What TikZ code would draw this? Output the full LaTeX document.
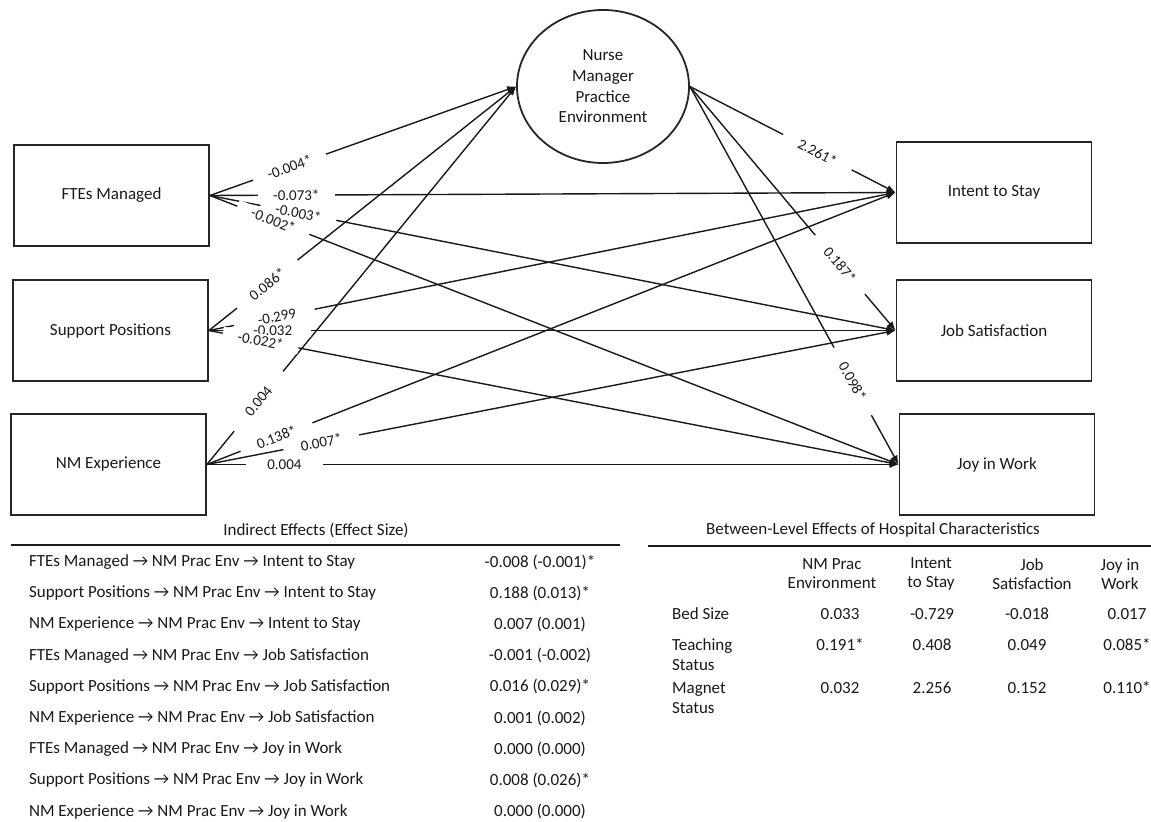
\documentclass[tikz,border=0pt]{standalone}
\usepackage{fontspec}
\setmainfont{Carlito}
\usetikzlibrary{arrows.meta, shapes.geometric}

\begin{document}
\begin{tikzpicture}[x=0.5pt, y=-0.5pt,
  box/.style  = {rectangle, draw=black!85, line width=0.9pt, text=black!90,
                 minimum width=97.5pt, minimum height=50.5pt,
                 font=\fontsize{8.5}{10.3}\selectfont},
  env/.style  = {ellipse, draw=black!85, line width=0.9pt, text=black!90,
                 minimum width=86pt, minimum height=76.5pt, inner sep=0pt,
                 align=center, font=\fontsize{8.5}{10.3}\selectfont},
  arr/.style  = {-{Latex[length=4.5pt, width=3.6pt]}, line width=0.7pt, black!90},
  lbl/.style  = {sloped, fill=white, inner xsep=0pt, inner ysep=0.6pt,
                 minimum width=38.5pt, text=black!90,
                 font=\fontsize{7.5}{8}\selectfont},
  head/.style = {text=black!90, align=center, font=\fontsize{8.5}{9.4}\selectfont},
  row/.style  = {anchor=west, text=black!90, align=left,
                 font=\fontsize{8.5}{10}\selectfont},
  cell/.style = {text=black!90, font=\fontsize{8.5}{10}\selectfont},
  rule/.style = {line width=0.9pt, black!90},
]
  \useasboundingbox (0,0) rectangle (1151,822);

  % model
  \node[box] (fte)   at (111.5,195.5) {FTEs Managed};
  \node[box] (sup)   at (110.5,330.5) {Support Positions};
  \node[box] (nmexp) at (108.5,464.5) {NM Experience};
  \node[env] (nmpe)  at (603,86.5) {Nurse\\Manager\\Practice\\Environment};
  \node[box] (its)   at (994,192.5) {Intent to Stay};
  \node[box] (jsat)  at (994,330.5) {Job Satisfaction};
  \node[box] (joy)   at (997,464.5) {Joy in Work};

  \draw[arr] (nmexp.east) -- node[lbl, pos=0.167] {0.004}  (nmpe.west);
  \draw[arr] (nmexp.east) -- node[lbl, pos=0.101] {0.138*} (its.west);
  \draw[arr] (nmexp.east) -- node[lbl, pos=0.166] {0.007*} (jsat.west);
  \draw[arr] (nmexp.east) -- node[lbl, pos=0.112] {0.004}  (joy.west);

  \draw[arr] (sup.east) -- node[lbl, pos=0.19]  {0.086*}  (nmpe.west);
  \draw[arr] (sup.east) -- node[lbl, pos=0.099] {-0.299}  (its.west);
  \draw[arr] (sup.east) -- node[lbl, pos=0.093] {-0.032}  (jsat.west);
  \draw[arr] (sup.east) -- node[lbl, pos=0.075] {-0.022*} (joy.west);

  \draw[arr] (fte.east) -- node[lbl, pos=0.26]  {-0.004*} (nmpe.west);
  \draw[arr] (fte.east) -- node[lbl, pos=0.126] {-0.073*} (its.west);
  \draw[arr] (fte.east) -- node[lbl, pos=0.129] {-0.003*} (jsat.west);
  \draw[arr] (fte.east) -- node[lbl, pos=0.092] {-0.002*} (joy.west);

  \draw[arr] (nmpe.east) -- node[lbl, pos=0.62] {2.261*} (its.west);
  \draw[arr] (nmpe.east) -- node[lbl, pos=0.73] {0.187*} (jsat.west);
  \draw[arr] (nmpe.east) -- node[lbl, pos=0.78] {0.098*} (joy.west);

  % indirect effects
  \node[cell] (ind) at (316,530) {Indirect Effects (Effect Size)};
  \draw[rule] (11,545) -- (620,545);
  \node[row]  (i1) at (22,562)   {FTEs Managed → NM Prac Env → Intent to Stay};
  \node[row]  (i2) at (22,593.2) {Support Positions → NM Prac Env → Intent to Stay};
  \node[row]  (i3) at (22,624.4) {NM Experience → NM Prac Env → Intent to Stay};
  \node[row]  (i4) at (22,655.6) {FTEs Managed → NM Prac Env → Job Satisfaction};
  \node[row]  (i5) at (22,686.8) {Support Positions → NM Prac Env → Job Satisfaction};
  \node[row]  (i6) at (22,718)   {NM Experience → NM Prac Env → Job Satisfaction};
  \node[row]  (i7) at (22,749.2) {FTEs Managed → NM Prac Env → Joy in Work};
  \node[row]  (i8) at (22,780.4) {Support Positions → NM Prac Env → Joy in Work};
  \node[row]  (i9) at (22,811.6) {NM Experience → NM Prac Env → Joy in Work};
  \node[cell] (e1) at (540,562)   {-0.008 (-0.001)*};
  \node[cell] (e2) at (540,593.2) {0.188 (0.013)*};
  \node[cell] (e3) at (540,624.4) {0.007 (0.001)};
  \node[cell] (e4) at (540,655.6) {-0.001 (-0.002)};
  \node[cell] (e5) at (540,686.8) {0.016 (0.029)*};
  \node[cell] (e6) at (540,718)   {0.001 (0.002)};
  \node[cell] (e7) at (540,749.2) {0.000 (0.000)};
  \node[cell] (e8) at (540,780.4) {0.008 (0.026)*};
  \node[cell] (e9) at (540,811.6) {0.000 (0.000)};

  % between-level effects
  \node[cell] (btw) at (873,530) {Between-Level Effects of Hospital Characteristics};
  \draw[rule] (648,546) -- (1151,546);
  \node[head] (h1) at (832,574)  {NM Prac\\Environment};
  \node[head] (h2) at (931,574)  {Intent\\to Stay};
  \node[head] (h3) at (1032,574) {Job\\Satisfaction};
  \node[head] (h4) at (1120,574) {Joy in\\Work};
  \node[row]  (bed)   at (665,614) {Bed Size};
  \node[row]  (teach) at (665,655) {Teaching\\Status};
  \node[row]  (mag)   at (665,698) {Magnet\\Status};
  \node[cell] (b1) at (840,614)  {0.033};
  \node[cell] (b2) at (932,614)  {-0.729};
  \node[cell] (b3) at (1027,614) {-0.018};
  \node[cell] (b4) at (1127,614) {0.017};
  \node[cell] (t1) at (840,645)  {0.191*};
  \node[cell] (t2) at (932,645)  {0.408};
  \node[cell] (t3) at (1027,645) {0.049};
  \node[cell] (t4) at (1127,645) {0.085*};
  \node[cell] (m1) at (840,688)  {0.032};
  \node[cell] (m2) at (932,688)  {2.256};
  \node[cell] (m3) at (1027,688) {0.152};
  \node[cell] (m4) at (1127,688) {0.110*};
\end{tikzpicture}
\end{document}
